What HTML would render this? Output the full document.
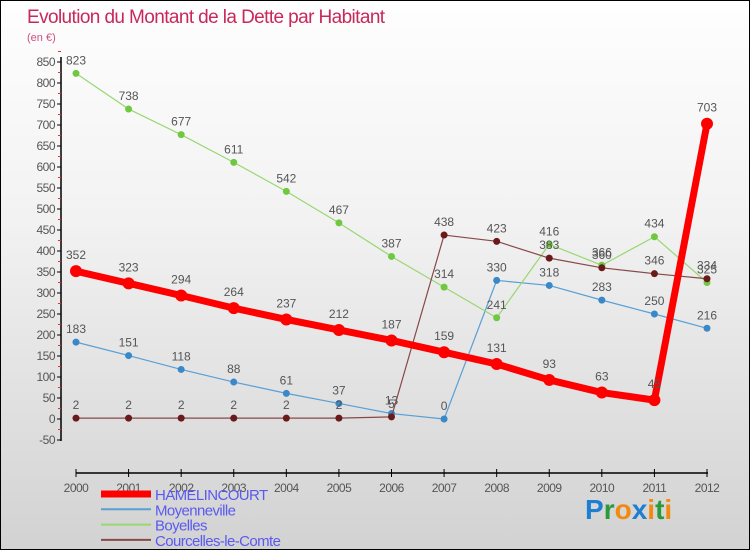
<!DOCTYPE html>
<html><head><meta charset="utf-8"><style>
body{margin:0}
#wrap{width:750px;height:550px;position:relative;box-sizing:border-box;border:1px solid #000;background:linear-gradient(#fefefe,#f2f2f2 40%,#d2d2d2);font-family:"Liberation Sans",sans-serif;overflow:hidden}
svg text{font-family:"Liberation Sans",sans-serif}
</style></head><body>
<div id="wrap">
<svg id="c" width="750" height="550">
<text x="26" y="22" font-size="19" fill="#c8285a" style="letter-spacing:-0.6px">Evolution du Montant de la Dette par Habitant</text>
<text x="26" y="40" font-size="11" fill="#d05080">(en €)</text>
<text x="584" y="518" font-size="28" font-weight="bold"><tspan fill="#1e7fd0">P</tspan><tspan fill="#2a9a3a">r</tspan><tspan fill="#f08a10">o</tspan><tspan fill="#1e7fd0">x</tspan><tspan fill="#f08a10">i</tspan><tspan fill="#2a9a3a">t</tspan><tspan fill="#f08a10">i</tspan></text>
</svg>
</div>
<script>
const years=[2000,2001,2002,2003,2004,2005,2006,2007,2008,2009,2010,2011,2012];
const hamelincourt=[352,323,294,264,237,212,187,159,131,93,63,45,703];
const moyenneville=[183,151,118,88,61,37,13,0,330,318,283,250,216];
const boyelles=[823,738,677,611,542,467,387,314,241,416,366,434,325];
const courcelles=[2,2,2,2,2,2,5,438,423,383,360,346,334];
const yTicks=[-50,0,50,100,150,200,250,300,350,400,450,500,550,600,650,700,750,800,850];
const NS='http://www.w3.org/2000/svg';
const svg=document.getElementById('c');
const X=i=>75+i*(706-75)/(years.length-1);
const Y=v=>418-v*(418-61)/850;
function el(t,a,p){const e=document.createElementNS(NS,t);for(const k in a)e.setAttribute(k,a[k]);(p||svg).appendChild(e);return e;}
const ax=el('g',{});


el('line',{x1:60,y1:56,x2:60,y2:440,stroke:'#000','stroke-width':1.5},ax);
el('line',{x1:75,y1:472,x2:707,y2:472,stroke:'#000','stroke-width':1.5},ax);
yTicks.forEach(v=>{
  el('line',{x1:56,y1:Y(v),x2:60,y2:Y(v),stroke:'#000'},ax);
  el('line',{x1:57,y1:Y(v+25),x2:60,y2:Y(v+25),stroke:'#e03030'},ax);
  const t=el('text',{x:54,y:Y(v)+4,'font-size':12,'text-anchor':'end',fill:'#555','letter-spacing':'-0.5'},ax);
  
  
  t.textContent=v;
});
years.forEach((y,i)=>{
  el('line',{x1:X(i),y1:468,x2:X(i),y2:476,stroke:'#000'},ax);
  const t=el('text',{x:X(i),y:491,'font-size':12,'text-anchor':'middle',fill:'#555','letter-spacing':'-0.5'},ax);
  
  
  t.textContent=y;
});
function series(data,name,color,dot,w,r,fs){
  const g=el('g',{});
  
  
  el('polyline',{points:data.map((v,i)=>X(i)+','+Y(v)).join(' '),fill:'none',stroke:color,'stroke-width':w,'stroke-linejoin':'round'},g);
  data.forEach((v,i)=>{
    const c=el('circle',{cx:X(i),cy:Y(v),r:r,fill:dot},g);
    
    
    const t=el('text',{x:X(i),y:Y(v)-9-(r>4?3:0),'font-size':fs,'text-anchor':'middle',fill:'#555'},g);
    
    
    t.textContent=v;
  });
}
series(moyenneville,'moyenneville-series','#5a9fd4','#3a88c8',1.2,3.5,12);
series(boyelles,'boyelles-series','#98d870','#70c840',1.2,3.5,12);
series(courcelles,'courcelles-series','#884848','#6a1a1a',1.2,3.5,12);
series(hamelincourt,'hamelincourt-series','#ff0000','#ff0000',7,6,12);
const lg=[['HAMELINCOURT','#ff0000',7],['Moyenneville','#5a9fd4',2],['Boyelles','#98d870',2],['Courcelles-le-Comte','#884848',2]];
lg.forEach((l,i)=>{
  const g=el('g',{});
  
  
  const y=493+i*15.3;
  el('line',{x1:100,y1:y,x2:150,y2:y,stroke:l[1],'stroke-width':l[2]},g);
  const t=el('text',{x:154,y:y+6,'font-size':15,fill:'#5a5af0','letter-spacing':'-0.6'},g);
  t.textContent=l[0];
});
</script>
</body></html>
